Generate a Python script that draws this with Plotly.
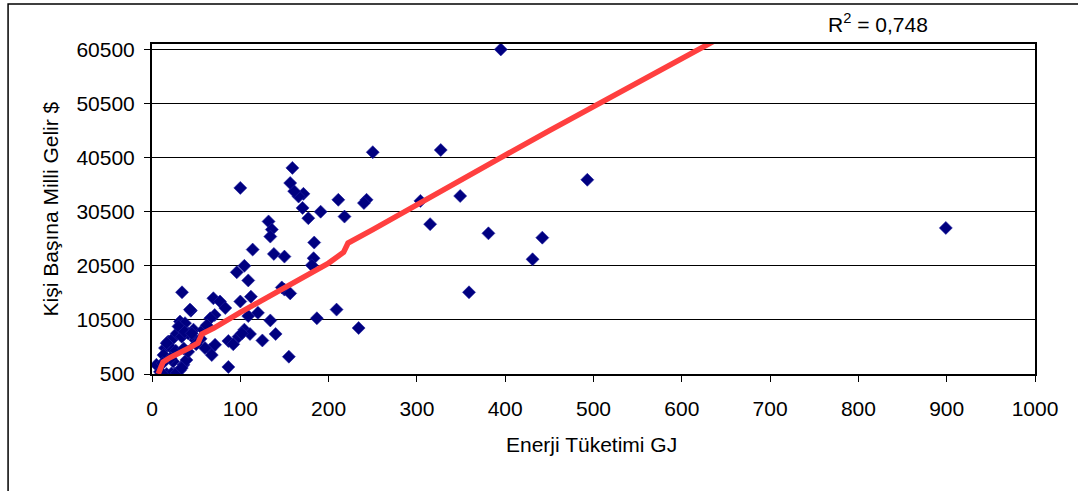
import plotly.graph_objects as go

# Scatter data: energy consumption (GJ) vs per-capita national income ($)
energy = [395, 899, 493, 431, 442, 381, 359, 349, 315, 304, 327, 250, 243, 240, 211, 218,
          191, 177, 170.5, 171.5, 166, 161, 156.5, 159, 100, 132, 135.7, 134, 114, 138, 150,
          183.7, 183, 181, 104.6, 96, 109, 150, 156.5, 112, 100, 109, 209, 186.7, 234, 134,
          104.6, 111, 98, 125, 140, 155, 86.5, 86.5, 101.7,
          34, 44, 69.5, 77, 83, 71, 66, 31.7, 37.4, 18.5, 24, 28, 33.7, 41, 47, 49, 14.7,
          13, 65.8, 71.4, 67.7, 5, 9, 16.6, 26, 31.7, 35.5, 39, 41, 58, 60, 30, 37, 20,
          24, 22, 28, 33.7, 11, 45, 16.6, 43, 62, 55, 50, 27, 36, 21, 12, 92, 120, 147]
income = [60500, 27500, 36400, 21700, 25700, 26500, 15600, 33400, 28200, 32500, 41900, 41500,
          32700, 32100, 32700, 29600, 30500, 29300, 31200, 33800, 33300, 34300, 35800, 38600,
          34900, 28700, 27200, 25900, 23500, 22700, 22200, 24800, 21900, 20600, 20500, 19300,
          17800, 16100, 15400, 14800, 13900, 11200, 12400, 10800, 9000, 10400, 8700, 7900,
          7400, 6700, 7900, 3700, 1800, 6600, 8000,
          15600, 12200, 14500, 13900, 12700, 11400, 10800, 10200, 9900, 6500, 7100, 8000,
          7400, 8000, 8700, 6800, 5300, 4000, 5000, 5900, 4000, 2200, 900, 500, 600, 1200,
          2200, 3100, 4600, 8700, 5300, 9300, 8300, 5600, 2800, 600, 700, 1600, 600, 8000,
          6200, 12400, 9500, 7000, 6000, 4800, 5200, 3400, 2500, 6000, 11800, 16500]

# Fitted trend values
trend_x = [7, 12.5, 20, 32, 42, 52, 56.5, 70, 85, 100, 120, 140, 160, 180, 200, 217,
           222, 250, 300, 350, 395, 450, 500, 550, 600, 621, 645]
trend_y = [500, 2700, 3500, 4400, 5300, 6200, 7900, 9000, 10500, 11900, 13700, 15500,
           17400, 19200, 21000, 23000, 24700, 27200, 31700, 36300, 40500, 45500, 50000,
           54500, 59000, 60700, 62800]

x_ticks = [0, 100, 200, 300, 400, 500, 600, 700, 800, 900, 1000]
y_ticks = [500, 10500, 20500, 30500, 40500, 50500, 60500]
y_tick_labels = [str(v) for v in y_ticks]

FONT = "Liberation Sans, Arial, sans-serif"

fig = go.Figure()
fig.add_trace(go.Scatter(
    x=energy, y=income, mode="markers",
    marker=dict(symbol="diamond", size=10, color="#000080",
                line=dict(width=0.6, color="#2020a0")),
    showlegend=False, cliponaxis=True))
fig.add_trace(go.Scatter(
    x=trend_x, y=trend_y, mode="lines",
    line=dict(color="#FF3F3F", width=5.5),
    showlegend=False))

fig.update_layout(
    width=1078, height=491,
    margin=dict(l=152, r=43, t=44, b=117),
    paper_bgcolor="white", plot_bgcolor="white",
    font=dict(family=FONT, size=21, color="black"),
    xaxis=dict(range=[0, 1000], tickvals=x_ticks, ticktext=[str(v) for v in x_ticks],
               showgrid=False, zeroline=False,
               showline=True, linecolor="black", linewidth=2, mirror=True,
               ticks="outside", ticklen=6, tickcolor="black", tickwidth=1,
               ticklabelstandoff=9, tickfont=dict(family=FONT, size=21)),
    yaxis=dict(range=[500, 61500], tickvals=y_ticks, ticktext=y_tick_labels,
               showgrid=True, gridcolor="black", gridwidth=1, zeroline=False,
               showline=True, linecolor="black", linewidth=2, mirror=True,
               ticks="outside", ticklen=6, tickcolor="black", tickwidth=1,
               ticklabelstandoff=5, tickfont=dict(family=FONT, size=21)),
    shapes=[dict(type="rect", xref="paper", yref="paper",
                 x0=-0.163, x1=1.1, y0=-0.4, y1=1.121,
                 line=dict(color="black", width=1.5), layer="below")],
    annotations=[
        dict(text="R<sup>2</sup> = 0,748", xref="paper", yref="paper",
             x=0.822, y=1.064, showarrow=False, font=dict(family=FONT, size=21),
             xanchor="center", yanchor="middle"),
        dict(text="Enerji Tüketimi GJ", xref="paper", yref="paper",
             x=0.498, y=-0.215, showarrow=False, font=dict(family=FONT, size=21),
             xanchor="center", yanchor="middle"),
        dict(text="Kişi Başına Milli Gelir $", xref="paper", yref="paper",
             x=-0.115, y=0.5, showarrow=False, font=dict(family=FONT, size=21),
             textangle=-90, xanchor="center", yanchor="middle"),
    ],
)

fig.write_html("out.html")
